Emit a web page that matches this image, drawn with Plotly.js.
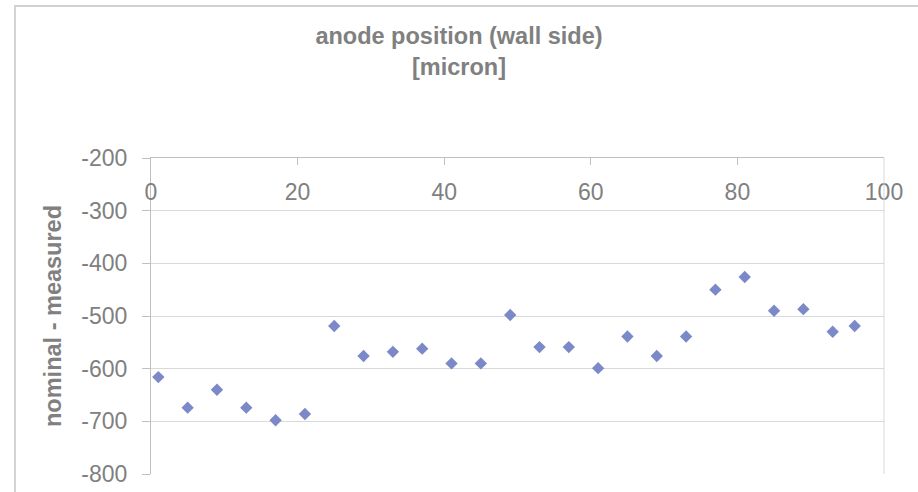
<!DOCTYPE html>
<html>
<head>
<meta charset="utf-8">
<script src="https://cdn.plot.ly/plotly-3.0.1.min.js"></script>
<style>
html,body{margin:0;padding:0;background:#fff;}
#wrap{position:relative;width:918px;height:492px;overflow:hidden;}
#chart{width:918px;height:492px;}
#frame{position:absolute;left:14px;top:5px;width:920px;height:500px;border-top:2px solid #d0d0d0;border-left:2px solid #d4d4d4;pointer-events:none;}
</style>
</head>
<body>
<div id="wrap"><div id="chart"></div><div id="frame"></div></div>
<script>
const positions = [1, 5, 9, 13, 17, 21, 25, 29, 33, 37, 41, 45, 49, 53, 57, 61, 65, 69, 73, 77, 81, 85, 89, 93, 96];
const deviation = [-616, -674, -640, -674, -698, -686, -519, -576, -568, -562, -590, -590, -498, -559, -559, -599, -539, -576, -539, -450, -426, -490, -487, -530, -519];
const xTicks = [0, 20, 40, 60, 80, 100];
const yTicks = [-800, -700, -600, -500, -400, -300, -200];
const chartTitle = 'anode position (wall side)<br>[micron]';
const yTitle = 'nominal - measured';

const gray = '#808080';
const font = 'Liberation Sans, Arial, sans-serif';

const trace = {
  type: 'scatter', mode: 'markers',
  x: positions, y: deviation,
  marker: {symbol: 'diamond', size: 9.5, color: '#7C89C8'},
  hoverinfo: 'x+y'
};

const layout = {
  width: 918, height: 492,
  margin: {l: 151, r: 34, t: 158, b: 18},
  paper_bgcolor: '#fff', plot_bgcolor: '#fff',
  showlegend: false,
  font: {family: font, color: gray},
  title: {
    text: chartTitle,
    font: {family: font, size: 23.5, color: gray, weight: 'bold'},
    x: 0.5, xref: 'container', xanchor: 'center',
    y: 0.91, yref: 'container', yanchor: 'top'
  },
  xaxis: {
    range: [0, 100], side: 'top',
    tickvals: xTicks, ticktext: xTicks.map(String),
    showgrid: false, zeroline: false,
    showline: true, linecolor: '#bfbfbf', linewidth: 1,
    ticks: 'inside', ticklen: 7, tickcolor: '#bfbfbf',
    ticklabelposition: 'inside', ticklabeloverflow: 'allow',
    ticklabelstandoff: 21,
    tickfont: {family: font, size: 23, color: gray}
  },
  yaxis: {
    range: [-800, -200],
    tickvals: yTicks, ticktext: yTicks.map(String),
    showgrid: true, gridcolor: '#d9d9d9', gridwidth: 1,
    zeroline: false,
    showline: true, linecolor: '#bfbfbf', linewidth: 1,
    ticks: 'outside', ticklen: 8, tickcolor: '#bfbfbf',
    ticklabelstandoff: 10,
    tickfont: {family: font, size: 23, color: gray},
    title: {text: yTitle, standoff: 13, font: {family: font, size: 23.5, color: gray, weight: 'bold'}}
  },
  shapes: [
    {type: 'line', xref: 'paper', yref: 'paper', x0: 1, x1: 1, y0: 0, y1: 1,
     line: {color: '#d9d9d9', width: 1}}
  ]
};

Plotly.newPlot('chart', [trace], layout, {displayModeBar: false, staticPlot: true});
</script>
</body>
</html>
